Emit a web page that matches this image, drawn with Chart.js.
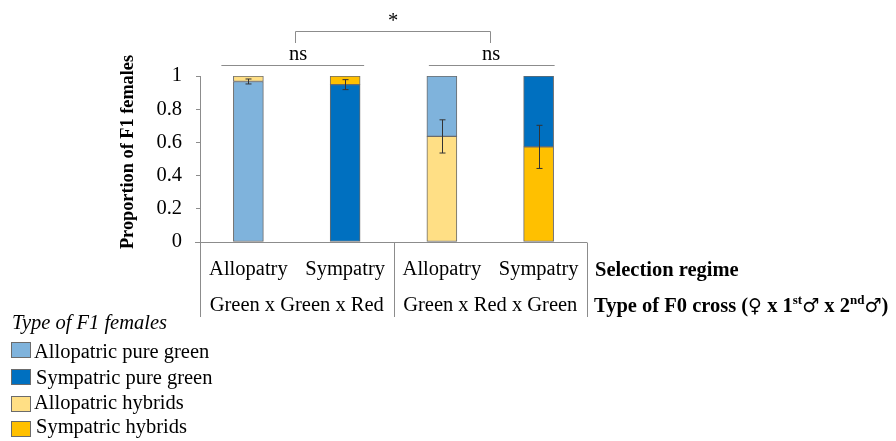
<!DOCTYPE html>
<html>
<head>
<meta charset="utf-8">
<script src="https://cdn.jsdelivr.net/npm/chart.js@4"></script>
<style>
  html, body { margin: 0; padding: 0; background: #ffffff; }
  #wrap { width: 896px; height: 441px; position: relative; }
</style>
</head>
<body>
<div id="wrap"><canvas id="chart" width="896" height="441"></canvas></div>
<script>
// Bars: one per selection regime within each F0 cross type
const regimes = ['Allopatry', 'Sympatry', 'Allopatry', 'Sympatry'];
const crossTypes = ['Green x Green x Red', 'Green x Red x Green'];
const yTicks = [0, 0.2, 0.4, 0.6, 0.8, 1];

// Proportion of F1 females of each type per bar
const pureGreen = [0.967, 0.948, 0.364, 0.427];
const hybrids = [0.033, 0.052, 0.636, 0.573];
// Standard error around the lower segment of each bar
const errors = [0.015, 0.030, 0.100, 0.130];

// Which segment sits at the bottom of each bar
const bottomIsPure = [true, true, false, false];

const legendLabels = ['Allopatric pure green', 'Sympatric pure green', 'Allopatric hybrids', 'Sympatric hybrids'];
const COL = {
  alloPure: '#7fb3dc',
  symPure: '#0070c0',
  alloHyb: '#ffdf85',
  symHyb: '#ffc000'
};
const pureColors = [COL.alloPure, COL.symPure, COL.alloPure, COL.symPure];
const hybColors = [COL.alloHyb, COL.symHyb, COL.alloHyb, COL.symHyb];

const bottomVals = pureGreen.map((v, i) => bottomIsPure[i] ? v : hybrids[i]);
const topVals = pureGreen.map((v, i) => bottomIsPure[i] ? hybrids[i] : v);
const bottomCols = pureColors.map((c, i) => bottomIsPure[i] ? c : hybColors[i]);
const topCols = pureColors.map((c, i) => bottomIsPure[i] ? hybColors[i] : c);

const SERIF = '"Liberation Serif", "Times New Roman", "DejaVu Serif", serif';
const AXIS_GREY = '#8c8c8c';

// Custom drawing: error bars, significance brackets, table of labels, legend
const decorations = {
  id: 'decorations',
  afterDatasetsDraw(chart) {
    const ctx = chart.ctx;
    const x = chart.scales.x;
    const y = chart.scales.y;
    const area = chart.chartArea;
    ctx.save();

    // error bars on the lower segment
    ctx.strokeStyle = '#333333';
    ctx.lineWidth = 1;
    bottomVals.forEach((v, i) => {
      const cx = Math.round(x.getPixelForValue(i)) + 0.5;
      const yHi = y.getPixelForValue(v + errors[i]);
      const yLo = y.getPixelForValue(v - errors[i]);
      ctx.beginPath();
      ctx.moveTo(cx, yHi); ctx.lineTo(cx, yLo);
      ctx.moveTo(cx - 3, yHi); ctx.lineTo(cx + 3, yHi);
      ctx.moveTo(cx - 3, yLo); ctx.lineTo(cx + 3, yLo);
      ctx.stroke();
    });

    // x axis line and table grid
    const y0 = Math.round(y.getPixelForValue(0)) + 0.5;
    ctx.strokeStyle = AXIS_GREY;
    ctx.beginPath();
    ctx.moveTo(area.left - 5, y0); ctx.lineTo(area.right, y0);
    const tableBottom = 317;
    [area.left, (area.left + area.right) / 2, area.right].forEach(px => {
      const xx = Math.round(px) + 0.5;
      ctx.moveTo(xx, y0); ctx.lineTo(xx, tableBottom);
    });
    ctx.stroke();

    // table text
    ctx.fillStyle = '#000000';
    ctx.textAlign = 'center';
    ctx.textBaseline = 'alphabetic';
    ctx.font = '20.5px ' + SERIF;
    regimes.forEach((r, i) => {
      ctx.fillText(r, x.getPixelForValue(i), 275);
    });
    const mid = (area.left + area.right) / 2;
    ctx.fillText(crossTypes[0], (area.left + mid) / 2, 311);
    ctx.fillText(crossTypes[1], (mid + area.right) / 2, 311);

    ctx.textAlign = 'left';
    ctx.font = 'bold 20.5px ' + SERIF;
    ctx.fillText('Selection regime', 595, 276);
    // type of cross row with symbols and superscripts
    let tx = 594;
    const ty = 312;
    const parts = [
      ['Type of F0 cross (', false],
      ['\u2640', false, true],
      [' x 1', false],
      ['st', true],
      ['\u2642', false, true],
      [' x 2', false],
      ['nd', true],
      ['\u2642', false, true],
      [')', false]
    ];
    parts.forEach(([t, sup, sym]) => {
      if (sup) {
        ctx.font = 'bold 13px ' + SERIF;
        ctx.fillText(t, tx, ty - 8);
      } else if (sym) {
        ctx.font = '19px "DejaVu Sans", sans-serif';
        ctx.fillText(t, tx, ty);
      } else {
        ctx.font = 'bold 20.5px ' + SERIF;
        ctx.fillText(t, tx, ty);
      }
      tx += ctx.measureText(t).width;
    });

    // significance brackets
    ctx.strokeStyle = '#8c8c8c';
    ctx.lineWidth = 1;
    const bw = 30;
    const left1 = x.getPixelForValue(0) - bw / 2 - 12;
    const right1 = x.getPixelForValue(1) + bw / 2 + 4;
    const left2 = x.getPixelForValue(2) - bw / 2 + 2;
    const right2 = x.getPixelForValue(3) + bw / 2 + 1;
    const nsY = 65.5;
    ctx.beginPath();
    ctx.moveTo(left1, nsY); ctx.lineTo(right1, nsY);
    ctx.moveTo(left2, nsY); ctx.lineTo(right2, nsY);
    const sL = 295.5, sR = 490.5, sTop = 31.5, sBot = 43;
    ctx.moveTo(sL, sBot); ctx.lineTo(sL, sTop); ctx.lineTo(sR, sTop); ctx.lineTo(sR, sBot);
    ctx.stroke();

    ctx.fillStyle = '#000000';
    ctx.textAlign = 'center';
    ctx.font = '20.5px ' + SERIF;
    ctx.fillText('ns', 298, 60);
    ctx.fillText('ns', 491, 60);
    ctx.fillText('*', 393, 27);

    // y axis title
    ctx.save();
    ctx.translate(133, 152);
    ctx.rotate(-Math.PI / 2);
    ctx.font = 'bold 18.3px ' + SERIF;
    ctx.textAlign = 'center';
    ctx.fillText('Proportion of F1 females', 0, 0);
    ctx.restore();

    // legend
    ctx.textAlign = 'left';
    ctx.font = 'italic 20.5px ' + SERIF;
    ctx.fillText('Type of F1 females', 12, 329);
    const legendCols = [COL.alloPure, COL.symPure, COL.alloHyb, COL.symHyb];
    const boxTops = [342, 369, 396, 421];
    const textBase = [358, 383.5, 409, 433];
    ctx.font = '20.5px ' + SERIF;
    legendLabels.forEach((lab, i) => {
      const top = boxTops[i];
      ctx.fillStyle = legendCols[i];
      ctx.fillRect(11, top, 20, 16);
      ctx.strokeStyle = '#6b6b6b';
      ctx.strokeRect(11.5, top + 0.5, 19, 15);
      ctx.fillStyle = '#000000';
      ctx.fillText(lab, 34 + (i % 2 === 1 ? 2 : 0), textBase[i]);
    });

    ctx.restore();
  }
};

new Chart(document.getElementById('chart'), {
  type: 'bar',
  data: {
    labels: regimes,
    datasets: [
      {
        label: 'lower',
        data: bottomVals,
        backgroundColor: bottomCols,
        borderColor: '#6b6b6b',
        borderWidth: 1,
        borderSkipped: false,
        barThickness: 30
      },
      {
        label: 'upper',
        data: topVals,
        backgroundColor: topCols,
        borderColor: '#6b6b6b',
        borderWidth: 1,
        borderSkipped: false,
        barThickness: 30
      }
    ]
  },
  options: {
    responsive: false,
    animation: false,
    devicePixelRatio: 1,
    layout: { padding: { left: 0, right: 309, top: 76, bottom: 199 } },
    plugins: {
      legend: { display: false },
      tooltip: { enabled: false }
    },
    scales: {
      x: {
        stacked: true,
        display: false,
        offset: true
      },
      y: {
        stacked: true,
        min: 0,
        max: 1,
        afterFit(scale) { scale.width = 200; },
        afterBuildTicks(scale) { scale.ticks = yTicks.map(v => ({ value: v })); },
        ticks: {
          padding: 14,
          color: '#000000',
          font: { family: SERIF, size: 20.5 },
          callback: v => String(v)
        },
        grid: {
          display: true,
          drawOnChartArea: false,
          drawTicks: true,
          tickLength: 4,
          color: AXIS_GREY
        },
        border: { display: true, color: AXIS_GREY }
      }
    }
  },
  plugins: [decorations]
});
</script>
</body>
</html>
